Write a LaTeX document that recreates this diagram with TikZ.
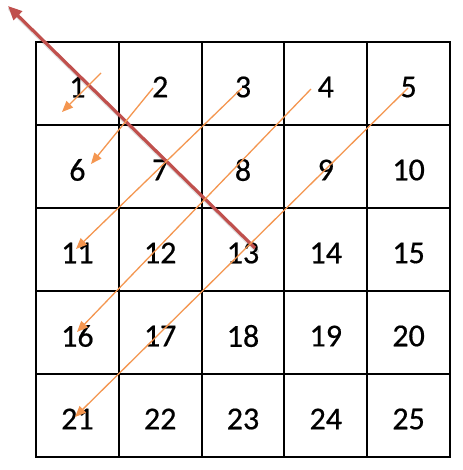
\documentclass[tikz,border=0pt]{standalone}
\usepackage{fontspec}
\setmainfont[FakeBold=0.6,AutoFakeBold=0.6]{Carlito}
\newfontfamily\numfont[FakeBold=0.5]{Carlito}
\usetikzlibrary{arrows.meta}
\definecolor{accorange}{RGB}{244,150,80}
\definecolor{accred}{RGB}{192,80,77}
\tikzset{
  cell/.style={draw=black, line width=2pt, minimum width=82.8pt, minimum height=83pt, inner sep=0pt, outer sep=0pt},
  num/.style={inner sep=0pt, font=\numfont\fontsize{32}{38}\selectfont},
  oarrow/.style={draw=accorange, line width=1.3pt, -{Triangle[length=11pt,width=9pt]}},
  rarrow/.style={draw=accred, line width=3.2pt, {Triangle[length=14pt,width=12pt]}-},
  rshadow/.style={draw=black, opacity=0.12, line width=4pt, line cap=round}
}
\begin{document}
\begin{tikzpicture}[x=1pt,y=-1pt]
\useasboundingbox (0,0) rectangle (462,470);
\fill[white] (0,0) rectangle (462,470);
% grid cells and numbers
\foreach \r in {1,...,5}{
  \foreach \c in {1,...,5}{
    \pgfmathtruncatemacro{\n}{(\r-1)*5+\c}
    \node[cell] (c\n) at ({36+82.8*(\c-0.5)},{42+83*(\r-0.5)}) {};
    \node[num] (n\n) at ([yshift=-3.5pt]c\n.center) {\n};
  }
}
% arrow end points
\coordinate (a1s) at (101,73);  \coordinate (a1e) at (62,112);
\coordinate (a2s) at (153,88);  \coordinate (a2e) at (91,164);
\coordinate (a3s) at (242,88);  \coordinate (a3e) at (76,249);
\coordinate (a4s) at (311,89);  \coordinate (a4e) at (77,332);
\coordinate (a5s) at (408,88);  \coordinate (a5e) at (75,417);
\coordinate (rs) at (255,248);  \coordinate (re) at (8,6);
% red diagonal arrow with faint shadow
\draw[rshadow] ([shift={(2,3)}]rs) -- ([shift={(2,3)}]re);
\draw[rarrow] (re) -- (rs);
% orange arrows
\draw[oarrow] (a1s) -- (a1e);
\draw[oarrow] (a2s) -- (a2e);
\draw[oarrow] (a3s) -- (a3e);
\draw[oarrow] (a4s) -- (a4e);
\draw[oarrow] (a5s) -- (a5e);
\end{tikzpicture}
\end{document}
